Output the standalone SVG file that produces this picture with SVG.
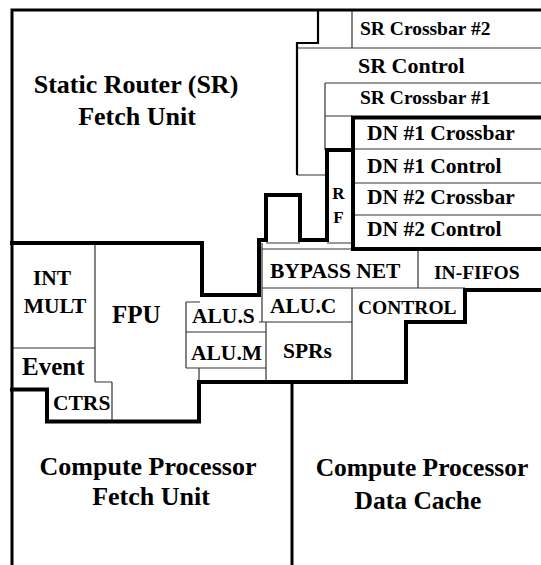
<svg xmlns="http://www.w3.org/2000/svg" width="541" height="565" viewBox="0 0 541 565">
<style>
text{font-family:"Liberation Serif","Times New Roman",serif;font-weight:bold;fill:#000}
.big{font-size:26px}
.mid{font-size:21.5px}
.sm{font-size:19.5px}
.c{text-anchor:middle}
.thin{fill:none;stroke:#333;stroke-width:1.2}
.med{fill:none;stroke:#000;stroke-width:2.2}
.thick{fill:none;stroke:#000;stroke-width:4;stroke-linejoin:miter;stroke-linecap:square}
.frame{fill:none;stroke:#000;stroke-width:3;stroke-linecap:square}
</style>
<rect width="541" height="565" fill="#fff"/>
<g id="outlines">
<path class="thin" d="M352,10V48 M297,48H541 M325,83H541 M325,83V150 M325,116H352 M297,175H326 M353,149H541 M353,183H541 M353,215H541 M327,243H353 M266,243H300 M262,249H353 M262,243V322 M418,249V288 M262,288H465 M352,288V382 M259,322H352 M266,322V382 M186,302H200 M186,302V368 M186,332H266 M186,368H266 M199,368V382 M95,243V382 M95,382H112 M112,382V422 M12,348H95"/>
<path class="med" d="M318,10V43H297V175"/>
<path class="frame" d="M12,565V10H541"/>
<path class="thick" d="M541,117.5H353V249H541"/>
<path class="thick" d="M12,243H202V295H259V240H266V195H300V240H327V150H353"/>
<path class="thick" d="M541,290H465V322H406V382H199V421.5H47V389.5H12"/>
<path class="frame" d="M292,382V565"/>
</g>
<g id="sr-fetch"><text class="big c" x="136" y="93">Static Router (SR)</text><text class="big c" x="137" y="125">Fetch Unit</text></g>
<g id="sr-crossbar-2"><text class="sm" x="360" y="35">SR Crossbar #2</text></g>
<g id="sr-control"><text x="358" y="73" style="font-size:22px">SR Control</text></g>
<g id="sr-crossbar-1"><text class="sm" x="360" y="104">SR Crossbar #1</text></g>
<g id="dn1-crossbar"><text class="mid" x="367" y="140">DN #1 Crossbar</text></g>
<g id="dn1-control"><text class="mid" x="367" y="173">DN #1 Control</text></g>
<g id="dn2-crossbar"><text class="mid" x="367" y="204">DN #2 Crossbar</text></g>
<g id="dn2-control"><text class="mid" x="367" y="236">DN #2 Control</text></g>
<g id="rf"><text class="c" x="338.5" y="199" style="font-size:17px">R</text><text class="c" x="338.5" y="223" style="font-size:17px">F</text></g>
<g id="bypass-net"><text class="mid" x="270" y="278">BYPASS NET</text></g>
<g id="in-fifos"><text class="sm" x="434" y="279">IN-FIFOS</text></g>
<g id="alu-c"><text class="mid" x="270" y="313">ALU.C</text></g>
<g id="control"><text class="sm" x="358" y="314">CONTROL</text></g>
<g id="sprs"><text class="mid" x="283" y="358">SPRs</text></g>
<g id="int-mult"><text class="mid c" x="52" y="285">INT</text><text class="mid c" x="55" y="313">MULT</text></g>
<g id="fpu"><text x="112" y="323" style="font-size:25px">FPU</text></g>
<g id="alu-s"><text class="mid" x="192" y="323">ALU.S</text></g>
<g id="alu-m"><text class="mid" x="191" y="360">ALU.M</text></g>
<g id="event-ctrs"><text x="22" y="375" style="font-size:25px">Event</text><text class="mid" x="53" y="410">CTRS</text></g>
<g id="cp-fetch"><text class="big c" x="148" y="475">Compute Processor</text><text class="big c" x="151" y="505">Fetch Unit</text></g>
<g id="cp-dcache"><text class="c" x="422" y="476" style="font-size:25.5px">Compute Processor</text><text class="c" x="418" y="509" style="font-size:25.5px">Data Cache</text></g>
</svg>
